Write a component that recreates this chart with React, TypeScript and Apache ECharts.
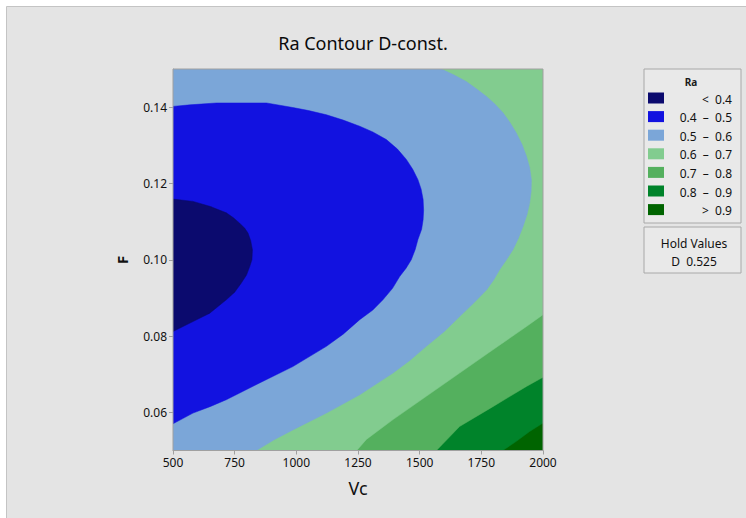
import React, { useEffect, useRef } from "react";
import * as echarts from "echarts";

// Axis ranges and tick labels
const vcTicks = [500, 750, 1000, 1250, 1500, 1750, 2000];
const fTicks = [0.06, 0.08, 0.1, 0.12, 0.14];
const vcRange = [500, 2000];
const fRange = [0.05, 0.15];

// Legend levels
const levelLabels = ["<  0.4", "0.4  –  0.5", "0.5  –  0.6", "0.6  –  0.7", "0.7  –  0.8", "0.8  –  0.9", ">  0.9"];
const levelColors = ["#0b0a6e", "#1212e0", "#7ba6d8", "#82cc8f", "#54b05e", "#00832a", "#006400"];

// Contour boundaries: [Vc, F]
const bound04 = [
  [500, 0.0812], [581, 0.0838], [649, 0.086], [716, 0.0895], [750, 0.0915], [777, 0.0939], [798, 0.096], [811, 0.0982],
  [820, 0.1], [822, 0.1026], [815, 0.105], [804, 0.107], [790, 0.1083], [770, 0.1096], [745, 0.111], [716, 0.1123], [649, 0.114],
  [581, 0.1153], [500, 0.1159],
];
const bound05 = [
  [500, 0.057], [581, 0.0598], [650, 0.0615], [716, 0.0633], [851, 0.0677], [986, 0.072], [1122, 0.0773],
  [1190, 0.0805], [1257, 0.0843], [1310, 0.0868], [1351, 0.0895], [1390, 0.0925], [1419, 0.0956], [1445, 0.0978], [1466, 0.1],
  [1482, 0.1027], [1493, 0.1053], [1508, 0.108], [1514, 0.1105], [1516, 0.113],
  [1514, 0.1158], [1506, 0.1185], [1493, 0.121], [1472, 0.1237], [1446, 0.1263], [1410, 0.129], [1365, 0.1315], [1310, 0.1335], [1257, 0.135], [1190, 0.1366], [1122, 0.138],
  [1050, 0.1391], [986, 0.1399], [879, 0.1411], [676, 0.1411], [568, 0.1406], [500, 0.1402],
];
const bound06 = [
  [838, 0.05], [910, 0.0528], [986, 0.0554], [1122, 0.0598], [1257, 0.0646], [1392, 0.0703], [1460, 0.0736], [1527, 0.0773],
  [1600, 0.0812], [1662, 0.0851], [1720, 0.0887], [1771, 0.0921], [1800, 0.0947], [1824, 0.0974], [1852, 0.1], [1878, 0.1026], [1900, 0.1056], [1919, 0.1087], [1935, 0.1118], [1946, 0.1149],
  [1952, 0.118], [1953, 0.121], [1946, 0.1241], [1933, 0.1271], [1915, 0.1302], [1892, 0.1332], [1866, 0.136], [1838, 0.1385], [1805, 0.1408], [1771, 0.1428], [1730, 0.1448], [1689, 0.1467],
  [1640, 0.1484], [1588, 0.15],
];
const bound07 = [
  [1245, 0.05], [1284, 0.0529], [1392, 0.0581], [1527, 0.0642], [1662, 0.0703], [1797, 0.0764],
  [1933, 0.0825], [2000, 0.0856],
];
const bound08 = [
  [1568, 0.05], [1662, 0.0563], [1797, 0.0615], [1933, 0.0668], [2000, 0.0692],
];
const bound09 = [
  [1837, 0.05], [1892, 0.0524], [1946, 0.055], [2000, 0.0572],
];

const cLL = [vcRange[0], fRange[0]];
const cLR = [vcRange[1], fRange[0]];
const cUR = [vcRange[1], fRange[1]];
const cUL = [vcRange[0], fRange[1]];

// Painted back to front: each region is "Ra below level"
const regions = [
  { color: levelColors[6], points: [cLL, cLR, cUR, cUL] },
  { color: levelColors[5], points: [cLL, ...bound09, cUR, cUL] },
  { color: levelColors[4], points: [cLL, ...bound08, cUR, cUL] },
  { color: levelColors[3], points: [cLL, ...bound07, cUR, cUL] },
  { color: levelColors[2], points: [cLL, ...bound06, cUL] },
  { color: levelColors[1], points: bound05 },
  { color: levelColors[0], points: bound04 },
];

const FONT = "Noto Sans";

export default function App() {
  const ref = useRef<HTMLDivElement>(null);
  useEffect(() => {
    if (!ref.current) return;
    const chart = echarts.init(ref.current, null, { renderer: "svg" });

    const legendX = 644;
    const legendY = 69;
    const rowY0 = 98;
    const rowStep = 18.6;
    const legendGraphics: any[] = [
      { type: "rect", shape: { x: legendX, y: legendY, width: 97, height: 154 }, style: { fill: "#e9e9e9", stroke: "#a8a8a8", lineWidth: 1 }, z: 10 },
      { type: "text", x: 691, y: 82, style: { text: "Ra", font: `bold 10px ${FONT}`, fill: "#1a1a1a", align: "center", verticalAlign: "middle" }, z: 11 },
      { type: "rect", shape: { x: legendX, y: 227, width: 97, height: 46 }, style: { fill: "#e9e9e9", stroke: "#a8a8a8", lineWidth: 1 }, z: 10 },
      { type: "text", x: 694, y: 243, style: { text: "Hold Values", font: `12px ${FONT}`, fill: "#111111", align: "center", verticalAlign: "middle" }, z: 11 },
      { type: "text", x: 694, y: 261, style: { text: "D  0.525", font: `12px ${FONT}`, fill: "#111111", align: "center", verticalAlign: "middle" }, z: 11 },
    ];
    levelLabels.forEach((lab, i) => {
      const cy = rowY0 + i * rowStep;
      legendGraphics.push({ type: "rect", shape: { x: 648, y: cy - 5.5, width: 16, height: 11 }, style: { fill: levelColors[i] }, z: 11 });
      legendGraphics.push({ type: "text", x: 732, y: cy + 1, style: { text: lab, font: `12px ${FONT}`, fill: "#111111", align: "right", verticalAlign: "middle" }, z: 11 });
    });

    chart.setOption({
      animation: false,
      backgroundColor: "#ffffff",
      title: {
        text: "Ra Contour D-const.",
        left: 358,
        top: 29,
        textAlign: "center",
        textStyle: { fontFamily: FONT, fontSize: 18, fontWeight: "normal", color: "#0a0a0a" },
      },
      graphic: [
        { type: "rect", shape: { x: 6.5, y: 6.5, width: 745, height: 520 }, style: { fill: "#e4e4e4", stroke: "#c4c4c4", lineWidth: 1 }, z: -10 },
        ...legendGraphics,
      ],
      grid: { left: 173, top: 69, width: 370, height: 381.5, show: true, borderColor: "#a0a0a0", borderWidth: 1, backgroundColor: "transparent", z: 5 },
      xAxis: {
        type: "value",
        min: vcRange[0],
        max: vcRange[1],
        interval: 250,
        name: "Vc",
        nameLocation: "middle",
        nameGap: 28,
        nameTextStyle: { fontFamily: FONT, fontSize: 18, color: "#111111" },
        axisLine: { show: true, lineStyle: { color: "#a0a0a0" } },
        axisTick: { show: true, length: 4, lineStyle: { color: "#a0a0a0" }, customValues: vcTicks },
        axisLabel: { fontFamily: FONT, fontSize: 12, color: "#111111", margin: 6, customValues: vcTicks, formatter: (v: number) => String(v) },
        splitLine: { show: false },
      },
      yAxis: {
        type: "value",
        min: fRange[0],
        max: fRange[1],
        interval: 0.01,
        name: "F",
        nameLocation: "middle",
        nameGap: 44,
        nameRotate: 90,
        nameTextStyle: { fontFamily: FONT, fontSize: 15, fontWeight: "bold", color: "#111111" },
        axisLine: { show: true, lineStyle: { color: "#a0a0a0" } },
        axisTick: { show: true, length: 4, lineStyle: { color: "#a0a0a0" }, customValues: fTicks },
        axisLabel: { fontFamily: FONT, fontSize: 12, color: "#111111", margin: 6, customValues: fTicks, formatter: (v: number) => v.toFixed(2) },
        splitLine: { show: false },
      },
      series: [
        {
          type: "custom",
          coordinateSystem: "cartesian2d",
          clip: true,
          silent: true,
          data: regions.map((r) => r.points[0]),
          renderItem: (params: any, api: any) => {
            const reg = regions[params.dataIndex];
            const pts = reg.points.map((p) => api.coord(p));
            return {
              type: "polygon",
              shape: { points: pts },
              style: { fill: reg.color, stroke: reg.color, lineWidth: 0.5 },
            };
          },
          z: 2,
        },
      ],
    });
    return () => chart.dispose();
  }, []);
  return <div ref={ref} style={{ position: "fixed", left: 0, top: 0, width: 746, height: 518 }} />;
}
